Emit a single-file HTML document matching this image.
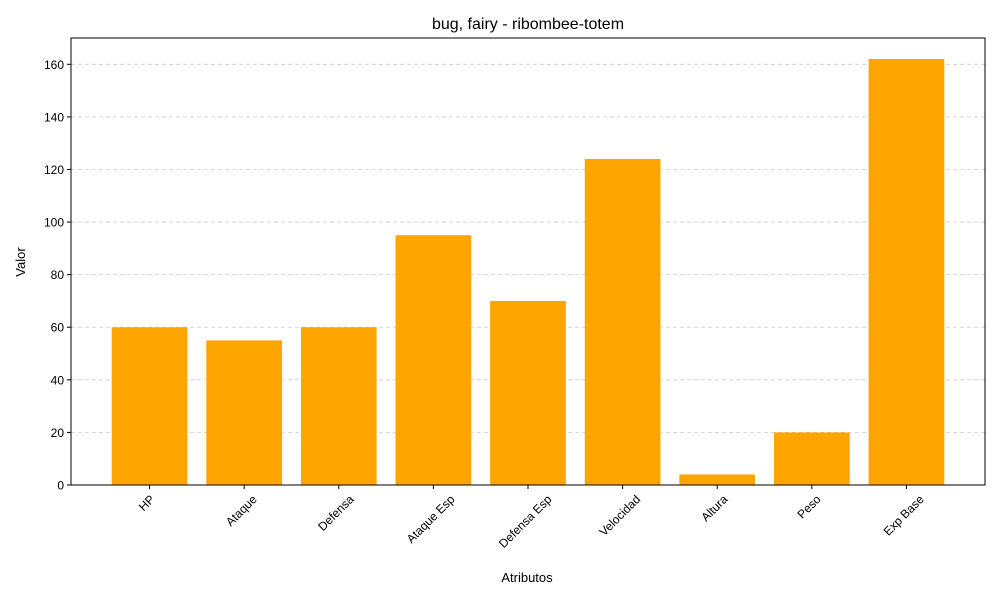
<!DOCTYPE html>
<html><head><meta charset="utf-8"><style>
body{margin:0;background:#fff;}
svg{font-family:"Liberation Sans","DejaVu Sans",sans-serif;}
</style></head><body>
<svg id="chart" width="1000" height="600">
<rect width="1000" height="600" fill="#fff"/>
<g id="grid"></g><g id="bars"></g><g id="axes"></g>
<text x="528" y="29" text-anchor="middle" font-size="16">bug, fairy - ribombee-totem</text>
<text x="527" y="582" text-anchor="middle" font-size="13">Atributos</text>
<text transform="translate(25,262) rotate(-90)" text-anchor="middle" font-size="13">Valor</text>
</svg>
<script>
const categories=["HP","Ataque","Defensa","Ataque Esp","Defensa Esp","Velocidad","Altura","Peso","Exp Base"];
const values=[60,55,60,95,70,124,4,20,162];
const yTicks=[0,20,40,60,80,100,120,140,160];
const L=71,R=985,T=38,B=485,yMax=170;
const step=(R-L)/(categories.length-1+2*0.83);
const xs=i=>L+step*(0.83+i);
const ys=v=>B-(B-T)*v/yMax;
const NS="http://www.w3.org/2000/svg";
function mk(t,a,p){const e=document.createElementNS(NS,t);for(const k in a)e.setAttribute(k,a[k]);p.appendChild(e);return e;}
const grid=document.getElementById('grid'),bars=document.getElementById('bars'),axes=document.getElementById('axes');
yTicks.forEach(v=>{
 const y=ys(v);
 const g=mk('line',{x1:L,x2:R,y1:y,y2:y,stroke:'#ccc','stroke-dasharray':'4,3','stroke-width':0.8},grid);
 
 
 mk('line',{x1:L-4,x2:L,y1:y,y2:y,stroke:'#000'},axes);
 const t=mk('text',{x:L-7,y:y+4.5,'text-anchor':'end','font-size':12},axes);t.textContent=v;
 
 
});
const bw=step*0.8;
categories.forEach((c,i)=>{
 const x=xs(i);
 const r=mk('rect',{x:x-bw/2,y:ys(values[i]),width:bw,height:B-ys(values[i]),fill:'#ffa500'},bars);
 
 
 mk('line',{x1:x,x2:x,y1:B,y2:B+4,stroke:'#000'},axes);
 const t=mk('text',{'text-anchor':'end','font-size':12},axes);t.textContent=c;
 
 
 const w=t.getComputedTextLength();
 t.setAttribute('transform',`translate(${x+w*0.354},${B+15}) rotate(-45)`);
});
mk('rect',{x:L,y:T,width:R-L,height:B-T,fill:'none',stroke:'#000','stroke-width':1},axes);
</script>
</body></html>
